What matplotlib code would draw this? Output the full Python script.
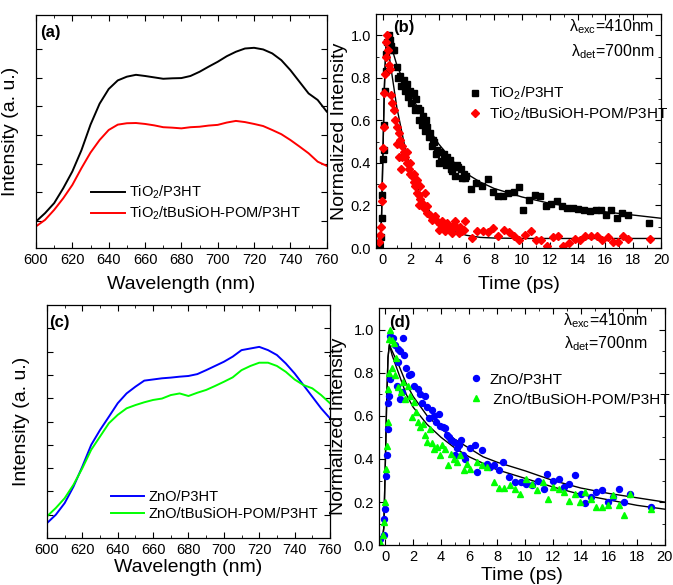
import numpy as np
import matplotlib
matplotlib.use("Agg")
import matplotlib.pyplot as plt
from matplotlib.ticker import MultipleLocator

plt.rcParams["font.family"] = ["Liberation Sans", "DejaVu Sans"]
plt.rcParams["mathtext.fontset"] = "custom"
plt.rcParams["mathtext.rm"] = "Liberation Sans"
plt.rcParams["mathtext.it"] = "Liberation Sans:italic"

# ---- (a) PL spectra, TiO2 ----
wl = [600, 605, 610, 615, 620, 625, 630, 635, 640, 645, 650, 655, 660, 665, 670, 675,
      680, 685, 690, 695, 700, 705, 710, 715, 720, 725, 730, 735, 740, 745, 750, 755, 760]
tio2_p3ht = [11.4, 15.0, 19.3, 25.7, 32.9, 42.0, 53.0, 62.0, 68.3, 72.0, 73.6, 74.4, 73.9,
             73.3, 72.7, 72.9, 73.0, 73.9, 75.7, 77.9, 80.0, 82.4, 84.3, 85.7, 86.0, 85.3,
             83.6, 80.7, 76.4, 71.4, 66.4, 63.6, 58.6]
tio2_pom = [9.3, 12.1, 16.4, 21.4, 27.1, 34.3, 41.0, 46.4, 50.7, 53.0, 53.6, 53.7, 53.3,
            52.7, 51.9, 51.7, 51.4, 51.9, 52.1, 52.6, 52.9, 53.9, 54.6, 54.1, 53.3, 52.4,
            50.7, 48.9, 46.4, 43.6, 40.7, 37.1, 35.3]

# ---- (c) PL spectra, ZnO ----
zno_p3ht = [6.4, 10.0, 15.0, 22.1, 30.7, 40.0, 46.4, 52.1, 57.9, 62.1, 65.0, 67.6, 68.1,
            68.6, 68.9, 69.3, 69.6, 70.4, 72.1, 73.9, 75.7, 77.9, 80.7, 81.4, 82.1, 80.7,
            78.6, 75.0, 70.7, 65.7, 60.7, 55.7, 51.4]
zno_pom = [9.3, 12.9, 17.1, 22.9, 30.0, 37.9, 43.6, 49.3, 52.9, 55.7, 57.1, 58.3, 59.3,
           59.9, 61.4, 62.1, 61.0, 62.4, 63.6, 65.3, 67.1, 69.0, 72.1, 73.9, 75.3, 75.3,
           73.9, 71.4, 68.1, 65.7, 64.3, 61.4, 57.9]

# ---- (b) transient decay, TiO2 ----
b_blk_t = [-0.3, -0.15, -0.1, -0.05, 0.0, 0.05, 0.1, 0.12, 0.2, 0.25, 0.3, 0.4, 0.5, 0.6, 0.7,
           0.77, 1.0, 1.1, 1.25, 1.3, 1.5, 1.6, 1.7, 1.8, 1.96, 2.0, 2.2, 2.3, 2.4, 2.5, 2.6,
           2.7, 2.8, 2.9, 3.0, 3.1, 3.2, 3.3, 3.4, 3.5, 3.6, 3.7, 3.8, 3.9, 4.0, 4.1, 4.2,
           4.4, 4.5, 4.6, 4.7, 4.8, 4.9, 5.0, 5.1, 5.2, 5.3, 5.4, 5.6, 5.7, 5.8, 5.9, 6.0,
           6.32, 6.68, 7.11, 7.52, 7.88, 8.26, 8.67, 8.98, 9.39, 9.8, 10.1, 10.54, 10.92,
           11.3, 11.74, 12.1, 12.5, 12.9, 13.27, 13.7, 14.06, 14.49, 14.9, 15.3, 15.66,
           16.05, 16.38, 16.8, 17.2, 17.6, 19.16]
b_blk_y = [0.01, 0.05, 0.14, 0.25, 0.42, 0.46, 0.58, 0.74, 0.83, 0.91, 0.97, 1.0, 0.98, 0.95,
           0.93, 0.93, 0.85, 0.80, 0.81, 0.76, 0.79, 0.74, 0.77, 0.71, 0.74, 0.68, 0.73, 0.65,
           0.70, 0.66, 0.60, 0.65, 0.58, 0.62, 0.55, 0.60, 0.57, 0.52, 0.54, 0.48, 0.51, 0.50,
           0.44, 0.46, 0.40, 0.45, 0.41, 0.44, 0.39, 0.43, 0.40, 0.415, 0.37, 0.36, 0.38,
           0.34, 0.39, 0.38, 0.37, 0.33, 0.35, 0.33, 0.34,
           0.277, 0.306, 0.29, 0.326, 0.262, 0.243, 0.246, 0.259, 0.262, 0.287, 0.177, 0.227,
           0.251, 0.246, 0.199, 0.208, 0.223, 0.196, 0.188, 0.188, 0.183, 0.177, 0.176,
           0.177, 0.177, 0.157, 0.177, 0.141, 0.165, 0.157, 0.118]
b_red_t = [-0.3, -0.2, -0.15, -0.1, -0.05, 0.0, 0.05, 0.1, 0.15, 0.2, 0.25, 0.3, 0.35, 0.45,
           0.5, 0.57, 0.65, 0.77, 0.89, 1.0, 1.0, 1.13, 1.17, 1.25, 1.32, 1.37, 1.37, 1.49,
           1.6, 1.72, 1.72, 1.84, 1.96, 1.96, 2.08, 2.2, 2.2, 2.32, 2.44, 2.44, 2.56, 2.56,
           2.68, 2.68, 2.8, 2.92, 3.04, 3.16, 3.16, 3.4, 3.52, 3.64, 3.76, 3.88, 4.0, 4.12,
           4.24, 4.36, 4.48, 4.6, 4.72, 4.84, 4.96, 5.08, 5.2, 5.3, 5.44, 5.56, 5.68, 5.8,
           5.9, 6.4, 6.75, 7.16, 7.52, 7.95, 8.31, 8.72, 9.03, 9.44, 9.82, 10.23, 10.63,
           11.0, 11.4, 11.83, 12.2, 12.6, 12.98, 13.4, 13.8, 14.18, 14.54, 14.95, 15.38,
           15.74, 16.17, 16.53, 16.93, 17.25, 17.65, 19.2]
b_red_y = [0.03, 0.06, 0.10, 0.22, 0.29, 0.47, 0.57, 0.73, 0.82, 0.90, 0.97, 1.0, 0.93, 0.86,
           0.84, 0.72, 0.68, 0.65, 0.60, 0.57, 0.49, 0.54, 0.43, 0.51, 0.37, 0.48, 0.43, 0.45,
           0.43, 0.40, 0.45, 0.37, 0.35, 0.40, 0.34, 0.31, 0.35, 0.29, 0.26, 0.32, 0.25, 0.20,
           0.23, 0.29, 0.21, 0.19, 0.26, 0.165, 0.196, 0.157, 0.133, 0.141, 0.149, 0.125,
           0.086, 0.114, 0.125, 0.10, 0.078, 0.118, 0.10, 0.086, 0.07, 0.11, 0.125, 0.094,
           0.07, 0.10, 0.078, 0.086, 0.125, 0.047, 0.078, 0.078, 0.075, 0.094, 0.055, 0.086,
           0.075, 0.055, 0.039, 0.063, 0.078, 0.039, 0.039, 0.011, 0.052, 0.055, 0.008,
           0.024, 0.042, 0.039, 0.055, 0.055, 0.055, 0.039, 0.052, 0.027, 0.027, 0.055,
           0.042, 0.042]
b_fit_t = [-0.5, -0.3, -0.2, -0.1, 0.0, 0.1, 0.2, 0.3, 0.5, 1.0, 1.5, 2.0, 2.5, 3.0, 3.5,
           4.0, 5.0, 6.0, 7.0, 8.0, 9.0, 10.0, 12.0, 14.0, 16.0, 18.0, 20.0]
b_fit_blk = [0.0, 0.0, 0.02, 0.15, 0.45, 0.75, 0.93, 1.0, 0.97, 0.86, 0.78, 0.72, 0.66, 0.60,
             0.54, 0.49, 0.41, 0.35, 0.31, 0.28, 0.26, 0.24, 0.21, 0.19, 0.17, 0.155, 0.14]
b_fit_red = [0.0, 0.0, 0.02, 0.15, 0.45, 0.75, 0.93, 1.0, 0.88, 0.66, 0.50, 0.37, 0.28, 0.21,
             0.16, 0.12, 0.08, 0.06, 0.05, 0.047, 0.046, 0.045, 0.045, 0.045, 0.045, 0.045,
             0.045]

# ---- (d) transient decay, ZnO ----
d_blu_t = [-0.36, -0.12, -0.05, 0.0, 0.07, 0.12, 0.17, 0.21, 0.24, 0.31, 0.36, 0.55, 0.72,
           0.84, 0.91, 0.95, 1.03, 1.07, 1.19, 1.26, 1.36, 1.46, 1.67, 1.86, 2.03, 2.31,
           2.46, 2.63, 2.86, 2.98, 3.15, 3.34, 3.51, 3.65, 3.82, 3.94, 4.1, 4.3, 4.42, 4.53,
           4.7, 4.89, 5.01, 5.13, 5.25, 5.44, 5.56, 5.73, 6.09, 6.44, 6.56, 6.92, 7.28, 7.52,
           7.8, 8.11, 8.42, 8.83, 9.3, 9.71, 10.1, 10.5, 10.9, 11.34, 11.6, 12.0, 12.4,
           12.77, 13.17, 13.6, 14.0, 14.3, 14.7, 15.1, 15.5, 15.9, 16.3, 16.7, 17.06, 17.47,
           18.97]
d_blu_y = [0.03, 0.046, 0.12, 0.17, 0.32, 0.42, 0.54, 0.66, 0.69, 0.77, 0.97, 0.96, 0.93,
           0.74, 0.91, 0.85, 0.68, 0.90, 0.71, 0.96, 0.88, 0.82, 0.79, 0.795, 0.74, 0.725,
           0.70, 0.66, 0.69, 0.64, 0.59, 0.625, 0.60, 0.57, 0.61, 0.555, 0.55, 0.545, 0.51,
           0.50, 0.49, 0.48, 0.417, 0.45, 0.463, 0.49, 0.42, 0.40, 0.45, 0.463, 0.34, 0.44,
           0.378, 0.363, 0.37, 0.347, 0.386, 0.316, 0.293, 0.293, 0.285, 0.278, 0.296,
           0.262, 0.332, 0.30, 0.309, 0.27, 0.285, 0.324, 0.239, 0.196, 0.224, 0.247,
           0.255, 0.20, 0.224, 0.262, 0.20, 0.239, 0.177]
d_grn_t = [-0.4, -0.17, -0.05, 0.0, 0.05, 0.12, 0.17, 0.21, 0.24, 0.26, 0.31, 0.48, 0.48,
           0.64, 0.72, 0.79, 0.95, 1.12, 1.26, 1.43, 1.6, 1.79, 1.91, 2.08, 2.22, 2.31, 2.5,
           2.7, 2.86, 2.98, 3.17, 3.34, 3.51, 3.7, 3.89, 4.06, 4.3, 4.46, 4.7, 4.89, 5.13,
           5.37, 5.6, 5.85, 6.09, 6.56, 6.92, 7.28, 7.76, 8.11, 8.47, 8.9, 9.3, 9.67, 10.1,
           10.5, 10.86, 11.26, 11.65, 12.0, 12.4, 12.77, 13.17, 13.6, 13.96, 14.3, 14.7,
           15.1, 15.5, 15.9, 16.3, 16.7, 17.06, 17.47, 18.97]
d_grn_y = [0.015, 0.046, 0.108, 0.20, 0.355, 0.46, 0.57, 0.725, 0.957, 0.80, 1.0, 0.95, 0.82,
           0.94, 0.79, 0.87, 0.733, 0.71, 0.756, 0.68, 0.74, 0.694, 0.594, 0.664, 0.617,
           0.571, 0.548, 0.563, 0.51, 0.478, 0.54, 0.472, 0.448, 0.455, 0.417, 0.463, 0.448,
           0.37, 0.424, 0.40, 0.386, 0.417, 0.347, 0.378, 0.355, 0.386, 0.37, 0.363, 0.293,
           0.265, 0.267, 0.278, 0.262, 0.239, 0.309, 0.285, 0.255, 0.293, 0.216, 0.27,
           0.262, 0.247, 0.205, 0.239, 0.20, 0.247, 0.216, 0.177, 0.177, 0.185, 0.231,
           0.185, 0.142, 0.239, 0.17]
d_fit_t = [-0.5, -0.4, -0.2, -0.1, 0.0, 0.1, 0.2, 0.3, 0.5, 1.0, 1.5, 2.0, 3.0, 4.0, 5.0,
           6.0, 7.0, 8.0, 10.0, 12.0, 14.0, 16.0, 18.0, 20.0]
d_fit_up = [0.02, 0.02, 0.03, 0.08, 0.35, 0.65, 0.87, 0.93, 0.90, 0.83, 0.75, 0.69, 0.60,
            0.54, 0.49, 0.45, 0.41, 0.385, 0.345, 0.30, 0.265, 0.24, 0.22, 0.20]
d_fit_lo = [0.02, 0.02, 0.03, 0.08, 0.35, 0.65, 0.87, 0.93, 0.88, 0.79, 0.70, 0.64, 0.56,
            0.50, 0.45, 0.41, 0.38, 0.35, 0.31, 0.27, 0.235, 0.21, 0.185, 0.167]

fig = plt.figure(figsize=(6.73, 5.85), dpi=100)
ax_a = fig.add_axes([0.0535, 0.576, 0.432, 0.398])
ax_b = fig.add_axes([0.5587, 0.576, 0.4235, 0.400])
ax_c = fig.add_axes([0.0698, 0.0803, 0.4205, 0.398])
ax_d = fig.add_axes([0.563, 0.068, 0.425, 0.4055])


def style(ax):
    ax.tick_params(which="both", direction="in", top=True, right=True, labelsize=10.5)
    ax.tick_params(which="major", length=4, width=0.8)
    ax.tick_params(which="minor", length=2, width=0.6)
    for s in ax.spines.values():
        s.set_linewidth(0.9)


# (a)
ax_a.plot(wl, tio2_p3ht, color="black", lw=1.4, label="TiO$_2$/P3HT")
ax_a.plot(wl, tio2_pom, color="#ff0000", lw=1.4, label="TiO$_2$/tBuSiOH-POM/P3HT")
ax_a.set_xlim(600, 760)
ax_a.set_ylim(0, 100)
ax_a.xaxis.set_major_locator(MultipleLocator(20))
ax_a.xaxis.set_minor_locator(MultipleLocator(10))
ax_a.set_yticks(np.arange(11.6, 95, 12.3))
ax_a.set_yticklabels([])
style(ax_a)
ax_a.set_xlabel("Wavelength (nm)", fontsize=14)
ax_a.set_ylabel("Intensity (a. u.)", fontsize=14)
ax_a.xaxis.set_label_coords(0.5, -0.12)
ax_a.yaxis.set_label_coords(-0.06, 0.5)
ax_a.text(0.014, 0.925, "(a)", transform=ax_a.transAxes, fontsize=12, fontweight="bold", va="center")
ax_a.legend(loc="lower left", bbox_to_anchor=(0.165, 0.08), frameon=False, fontsize=10.5,
            handlelength=2.3, handletextpad=0.3, labelspacing=0.25, borderpad=0)

# (b)
ax_b.plot(b_fit_t, b_fit_blk, color="black", lw=1.0)
ax_b.plot(b_fit_t, b_fit_red, color="black", lw=1.0)
ax_b.plot(b_blk_t, b_blk_y, ls="none", marker="s", ms=4.2, color="black", label="TiO$_2$/P3HT")
ax_b.plot(b_red_t, b_red_y, ls="none", marker="D", ms=4.0, color="#ff0000",
          label="TiO$_2$/tBuSiOH-POM/P3HT")
ax_b.set_xlim(-0.5, 20)
ax_b.set_ylim(0, 1.1)
ax_b.xaxis.set_major_locator(MultipleLocator(2))
ax_b.xaxis.set_minor_locator(MultipleLocator(1))
ax_b.yaxis.set_minor_locator(MultipleLocator(0.1))
ax_b.set_yticks(np.arange(0, 1.01, 0.2))
ax_b.set_yticklabels(["0.0", "0.2", "0.4", "0.6", "0.8", "1.0"])
style(ax_b)
ax_b.set_xlabel("Time (ps)", fontsize=14)
ax_b.set_ylabel("Normalized Intensity", fontsize=14)
ax_b.xaxis.set_label_coords(0.5, -0.12)
ax_b.yaxis.set_label_coords(-0.10, 0.5)
ax_b.text(0.06, 0.944, "(b)", transform=ax_b.transAxes, fontsize=12, fontweight="bold", va="center")
ax_b.text(0.975, 0.944, r"λ$_{\rm exc}$=410nm", transform=ax_b.transAxes, fontsize=11.5,
          ha="right", va="center")
ax_b.text(0.975, 0.838, r"λ$_{\rm det}$=700nm", transform=ax_b.transAxes, fontsize=11.5,
          ha="right", va="center")
ax_b.legend(loc="upper left", bbox_to_anchor=(0.30, 0.73), frameon=False, fontsize=11,
            handlelength=0.8, handletextpad=0.5, labelspacing=0.2, borderpad=0)

# (c)
ax_c.plot(wl, zno_p3ht, color="#0000ff", lw=1.4, label="ZnO/P3HT")
ax_c.plot(wl, zno_pom, color="#00ff00", lw=1.4, label="ZnO/tBuSiOH-POM/P3HT")
ax_c.set_xlim(600, 760)
ax_c.set_ylim(0, 100)
ax_c.xaxis.set_major_locator(MultipleLocator(20))
ax_c.xaxis.set_minor_locator(MultipleLocator(10))
ax_c.set_yticks(np.arange(10, 95, 10))
ax_c.set_yticklabels([])
style(ax_c)
ax_c.set_xlabel("Wavelength (nm)", fontsize=14)
ax_c.set_ylabel("Intensity (a. u.)", fontsize=14)
ax_c.xaxis.set_label_coords(0.5, -0.09)
ax_c.yaxis.set_label_coords(-0.06, 0.5)
ax_c.text(0.007, 0.925, "(c)", transform=ax_c.transAxes, fontsize=12, fontweight="bold", va="center")
ax_c.legend(loc="lower left", bbox_to_anchor=(0.2, 0.04), frameon=False, fontsize=10.5,
            handlelength=2.3, handletextpad=0.3, labelspacing=0.25, borderpad=0)

# (d)
ax_d.plot(d_fit_t, d_fit_up, color="black", lw=1.0)
ax_d.plot(d_fit_t, d_fit_lo, color="black", lw=1.0)
ax_d.plot(d_blu_t, d_blu_y, ls="none", marker="o", ms=4.3, color="#0000ff", label="ZnO/P3HT")
ax_d.plot(d_grn_t, d_grn_y, ls="none", marker="^", ms=5.0, color="#00ff00",
          label=" ZnO/tBuSiOH-POM/P3HT")
ax_d.set_xlim(-0.45, 20)
ax_d.set_ylim(0, 1.1)
ax_d.xaxis.set_major_locator(MultipleLocator(2))
ax_d.xaxis.set_minor_locator(MultipleLocator(1))
ax_d.yaxis.set_minor_locator(MultipleLocator(0.1))
ax_d.set_yticks(np.arange(0, 1.01, 0.2))
ax_d.set_yticklabels(["0.0", "0.2", "0.4", "0.6", "0.8", "1.0"])
style(ax_d)
ax_d.set_xlabel("Time (ps)", fontsize=14)
ax_d.set_ylabel("Normalized Intensity", fontsize=14)
ax_d.xaxis.set_label_coords(0.5, -0.09)
ax_d.yaxis.set_label_coords(-0.11, 0.5)
ax_d.text(0.035, 0.94, "(d)", transform=ax_d.transAxes, fontsize=12, fontweight="bold", va="center")
ax_d.text(0.94, 0.946, r"λ$_{\rm exc}$=410nm", transform=ax_d.transAxes, fontsize=11.5,
          ha="right", va="center")
ax_d.text(0.94, 0.85, r"λ$_{\rm det}$=700nm", transform=ax_d.transAxes, fontsize=11.5,
          ha="right", va="center")
ax_d.legend(loc="upper left", bbox_to_anchor=(0.29, 0.76), frameon=False, fontsize=11,
            handlelength=0.8, handletextpad=0.5, labelspacing=0.4, borderpad=0)

fig.savefig("out.png", dpi=100)
